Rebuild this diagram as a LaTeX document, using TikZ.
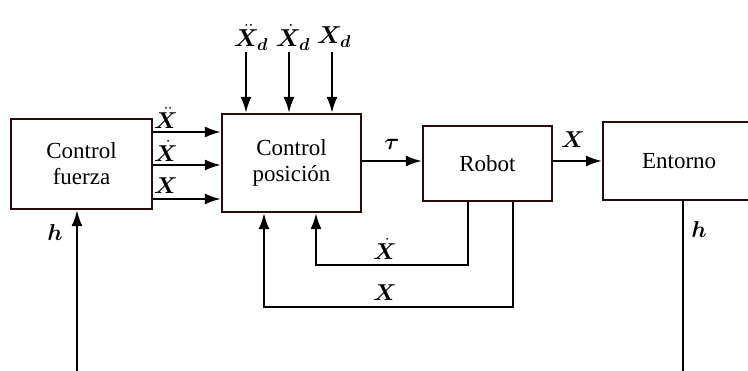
\documentclass[tikz,border=0pt]{standalone}
\usepackage{fix-cm}
\usepackage{amsmath,bm}
\usepackage{fontspec}
\setmainfont{Liberation Serif}
\usetikzlibrary{arrows.meta}
\definecolor{boxc}{RGB}{40,12,12}
\tikzset{
  blk/.style={draw=boxc, line width=2.2pt, fill=white, align=center, inner sep=0pt,
    font=\fontsize{23}{26}\selectfont},
  arr/.style={line width=2.1pt, -{Latex[length=16pt,width=11pt]}},
  ln/.style={line width=2.1pt},
  lbl/.style={inner sep=0pt, font=\fontsize{23}{26}\selectfont},
  toplbl/.style={inner sep=0pt, font=\fontsize{24.5}{28}\selectfont}
}
\begin{document}
\begin{tikzpicture}[x=1pt,y=-1pt]
\useasboundingbox (0,0) rectangle (748,371);
\clip (0,0) rectangle (748,371);
\node[blk, minimum width=141pt, minimum height=90pt] (cf) at (81.5,164) {Control\\fuerza};
\node[blk, minimum width=139pt, minimum height=98pt] (cp) at (291.5,163) {Control\\posición};
\node[blk, minimum width=129pt, minimum height=75pt] (rb) at (487.5,163.5) {Robot};
\node[blk, minimum width=152pt, minimum height=78pt, anchor=west] (en) at (602,161) {Entorno};
% inputs from force control
\foreach \yy/\nm in {132/a,165/b,199/c}{
  \coordinate (s\nm) at (cf.east |- 0,\yy);
  \coordinate (e\nm) at (cp.west |- 0,\yy);
  \draw[arr] (s\nm) -- (e\nm);
}
\node[lbl] (la) at (166,118) {$\bm{\ddot{X}}$};
\node[lbl] (lb) at (166,151) {$\bm{\dot{X}}$};
\node[lbl] (lc) at (166,186) {$\bm{X}$};
% desired inputs
\node[toplbl] (d1) at (251,37) {$\bm{\ddot{X}_d}$};
\node[toplbl] (d2) at (293,37) {$\bm{\dot{X}_d}$};
\node[toplbl] (d3) at (334,37) {$\bm{X_d}$};
\foreach \xx/\nm in {246/1,289/2,332/3}{
  \coordinate (t\nm) at (\xx,52);
  \draw[arr] (t\nm) -- (cp.north -| t\nm);
}
% tau
\draw[arr] (cp.east |- 0,161) -- (rb.west |- 0,161);
\node[lbl] (tau) at (392,144) {$\bm{\tau}$};
% X to environment
\draw[arr] (rb.east |- 0,161) -- (en.west |- 0,161);
\node[lbl] (xo) at (573,140) {$\bm{X}$};
% feedback
\coordinate (f1) at (468,265);
\coordinate (f2) at (513,307);
\draw[arr] (rb.south -| f1) -- (f1) -- (316,265) -- (cp.south -| 316,0);
\draw[arr] (rb.south -| f2) -- (f2) -- (264,307) -- (cp.south -| 264,0);
\node[lbl] (fb1) at (385,249) {$\bm{\dot{X}}$};
\node[lbl] (fb2) at (385,293) {$\bm{X}$};
% h lines
\coordinate (hb) at (683,371);
\draw[ln] (en.south -| hb) -- (hb);
\node[lbl] (h2) at (699,230) {$\bm{h}$};
\coordinate (ha) at (77,371);
\draw[arr] (ha) -- (cf.south -| ha);
\node[lbl] (h1) at (55,233) {$\bm{h}$};
\end{tikzpicture}
\end{document}
